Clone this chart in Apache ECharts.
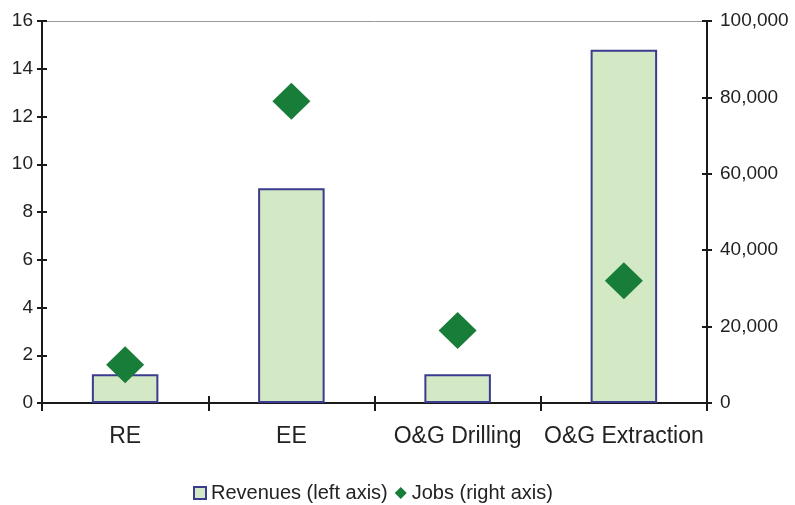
<!DOCTYPE html>
<html>
<head>
<meta charset="utf-8">
<script src="https://cdn.jsdelivr.net/npm/echarts@6/dist/echarts.min.js"></script>
<style>
  html, body { margin: 0; padding: 0; background: #fff; }
  #chart { width: 795px; height: 505px; }
</style>
</head>
<body>
<div id="chart"></div>
<script>
// categories and values
const categories = ['RE', 'EE', 'O&G Drilling', 'O&G Extraction'];
const revenues = [1.2, 9.0, 1.2, 14.8];       // left axis
const jobs = [10000, 79000, 19000, 32000];    // right axis

const FONT = '"Liberation Sans", Arial, sans-serif';
const AXIS_COLOR = '#1a1a1a';

const myChart = echarts.init(document.getElementById('chart'));

// thousands separator for the right axis
function fmtThousands(v) {
    return String(v).replace(/\B(?=(\d{3})+(?!\d))/g, ',');
}

const option = {
    backgroundColor: '#fff',
    animation: false,
    grid: { left: 42, right: 88, top: 21, bottom: 102, containLabel: false },
    legend: {
        top: 478,
        left: 188,
        itemWidth: 12,
        itemHeight: 12,
        itemGap: 7,
        textStyle: { fontFamily: FONT, fontSize: 20, color: '#222' },
        data: [
            { name: 'Revenues (left axis)', icon: 'rect' },
            { name: 'Jobs (right axis)', icon: 'diamond' }
        ]
    },
    xAxis: [
        {
            type: 'category',
            data: categories,
            position: 'bottom',
            axisLine: { onZero: false, lineStyle: { color: AXIS_COLOR, width: 2 } },
            axisTick: { show: true, interval: 0, length: 8, lineStyle: { color: AXIS_COLOR, width: 2 } },
            axisLabel: { interval: 0, fontFamily: FONT, fontSize: 23, color: '#222', margin: 22 }
        },
        {
            // second axis only for the inward half of the ticks
            type: 'category',
            data: categories,
            position: 'bottom',
            axisLine: { show: false, onZero: false },
            axisTick: { show: true, interval: 0, inside: true, length: 7, lineStyle: { color: AXIS_COLOR, width: 2 } },
            axisLabel: { show: false }
        },
        {
            // thin top border
            type: 'category',
            data: categories,
            position: 'top',
            axisLine: { show: true, onZero: false, lineStyle: { color: '#999', width: 1 } },
            axisTick: { show: false },
            axisLabel: { show: false }
        }
    ],
    yAxis: [
        {
            type: 'value',
            position: 'left',
            min: 0, max: 16, interval: 2,
            axisLine: { show: true, lineStyle: { color: AXIS_COLOR, width: 2 } },
            axisTick: { show: true, length: 5, lineStyle: { color: AXIS_COLOR, width: 2 } },
            axisLabel: { fontFamily: FONT, fontSize: 19, color: '#222', margin: 9 },
            splitLine: { show: false }
        },
        {
            type: 'value',
            position: 'left',
            min: 0, max: 16, interval: 2,
            axisLine: { show: false },
            axisTick: { show: true, inside: true, length: 5, lineStyle: { color: AXIS_COLOR, width: 2 } },
            axisLabel: { show: false },
            splitLine: { show: false }
        },
        {
            type: 'value',
            position: 'right',
            min: 0, max: 100000, interval: 20000,
            axisLine: { show: true, lineStyle: { color: AXIS_COLOR, width: 2 } },
            axisTick: { show: true, length: 5, lineStyle: { color: AXIS_COLOR, width: 2 } },
            axisLabel: { fontFamily: FONT, fontSize: 19, color: '#222', margin: 13, formatter: fmtThousands },
            splitLine: { show: false }
        },
        {
            type: 'value',
            position: 'right',
            min: 0, max: 100000, interval: 20000,
            axisLine: { show: false },
            axisTick: { show: true, inside: true, length: 5, lineStyle: { color: AXIS_COLOR, width: 2 } },
            axisLabel: { show: false },
            splitLine: { show: false }
        }
    ],
    series: [
        {
            name: 'Revenues (left axis)',
            type: 'bar',
            xAxisIndex: 0,
            yAxisIndex: 0,
            barWidth: '40%',
            data: revenues,
            itemStyle: { color: '#d3e8c5', borderColor: '#3b3b8f', borderWidth: 2 }
        },
        {
            name: 'Jobs (right axis)',
            type: 'scatter',
            xAxisIndex: 0,
            yAxisIndex: 2,
            symbol: 'diamond',
            symbolSize: [38, 37],
            data: jobs,
            itemStyle: { color: '#177d38', opacity: 1 }
        }
    ]
};

myChart.setOption(option);
</script>
</body>
</html>
